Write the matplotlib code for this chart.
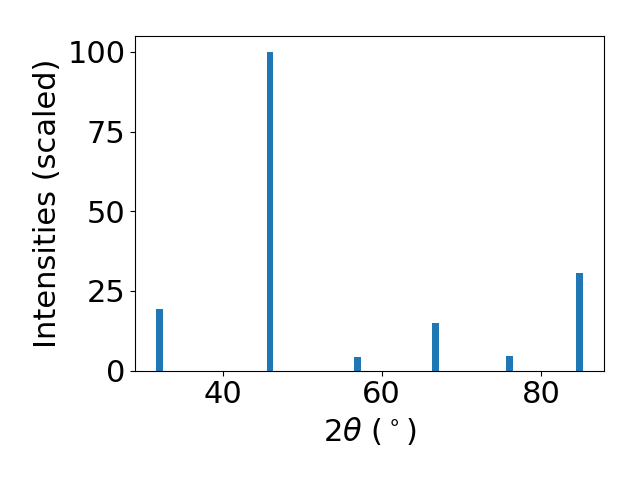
import matplotlib
matplotlib.use("Agg")
import matplotlib.pyplot as plt

# peak positions (2theta, degrees) and scaled intensities
two_theta = [32.07, 45.94, 56.94, 66.77, 76.06, 84.88]
intensities = [19.4, 100.0, 4.4, 15.0, 4.7, 30.7]

plt.rcParams['font.size'] = 22

fig, ax = plt.subplots(figsize=(6.4, 4.8), dpi=100)
ax.bar(two_theta, intensities, width=0.8, color="#1f77b4")
ax.set_xlabel(r"$2\theta$ ($^\circ$)")
ax.set_ylabel("Intensities (scaled)")
ax.set_yticks([0, 25, 50, 75, 100])
fig.subplots_adjust(left=0.211, right=0.944, top=0.925, bottom=0.228)
fig.savefig("out.png")
